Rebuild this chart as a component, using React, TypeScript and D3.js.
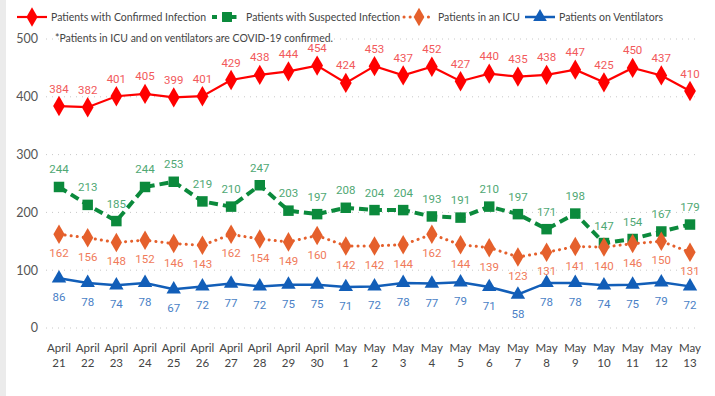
import * as d3 from "d3";
import React from "react";

const dates = [
  "April 21", "April 22", "April 23", "April 24", "April 25", "April 26", "April 27", "April 28",
  "April 29", "April 30", "May 1", "May 2", "May 3", "May 4", "May 5", "May 6", "May 7", "May 8",
  "May 9", "May 10", "May 11", "May 12", "May 13",
];
const confirmed = [384, 382, 401, 405, 399, 401, 429, 438, 444, 454, 424, 453, 437, 452, 427, 440, 435, 438, 447, 425, 450, 437, 410];
const suspected = [244, 213, 185, 244, 253, 219, 210, 247, 203, 197, 208, 204, 204, 193, 191, 210, 197, 171, 198, 147, 154, 167, 179];
const icu = [162, 156, 148, 152, 146, 143, 162, 154, 149, 160, 142, 142, 144, 162, 144, 139, 123, 131, 141, 140, 146, 150, 131];
const ventilators = [86, 78, 74, 78, 67, 72, 77, 72, 75, 75, 71, 72, 78, 77, 79, 71, 58, 78, 78, 74, 75, 79, 72];
const yTicks = [0, 100, 200, 300, 400, 500];

const W = 715;
const H = 396;
const font = "Lato, 'DejaVu Sans', sans-serif";
const labelFont = "Roboto, sans-serif";

interface Series {
  name: string;
  values: number[];
  color: string;
  labelColor: string;
  width: number;
  dash: string;
  marker: "diamond" | "square" | "triangle";
  markerSize: number;
  labelAbove: boolean;
}

const series: Series[] = [
  { name: "Patients with Confirmed Infection", values: confirmed, color: "#ff0000", labelColor: "#f2595b", width: 2.2, dash: "", marker: "diamond", markerSize: 120, labelAbove: true },
  { name: "Patients with Suspected Infection", values: suspected, color: "#0b8a3c", labelColor: "#4fa874", width: 4, dash: "9,5", marker: "square", markerSize: 110, labelAbove: true },
  { name: "Patients in an ICU", values: icu, color: "#e5602c", labelColor: "#f07a5a", width: 3, dash: "0.1,6", marker: "diamond", markerSize: 110, labelAbove: false },
  { name: "Patients on Ventilators", values: ventilators, color: "#125eb8", labelColor: "#4a7fc6", width: 2.5, dash: "", marker: "triangle", markerSize: 90, labelAbove: false },
];

const symbolType = (m: string) =>
  m === "diamond" ? d3.symbolDiamond : m === "square" ? d3.symbolSquare : d3.symbolTriangle;

// legend layout: where each entry starts and how wide its text is
const legendX = [17, 212, 404, 525];
const legendTextW = [155, 154, 82, 104];

export default function App() {
  const x = d3.scalePoint<string>().domain(dates).range([59, 690]);
  const y = d3.scaleLinear().domain([0, 500]).range([328, 39]);

  return (
    <svg width={W} height={H} style={{ position: "absolute", left: 0, top: 0, background: "#fff" }}>
      <rect x={0} y={0} width={6} height={H} fill="#ebebeb" />

      {yTicks.map((t) => (
        <g key={t}>
          <line x1={46} x2={695} y1={y(t)} y2={y(t)} stroke="#c8c8c8" strokeWidth={1} strokeDasharray="1,5" />
          <text x={38} y={y(t)} dy="0.35em" textAnchor="end" fontFamily={font} fontSize={12.5} fill="#555">{t}</text>
        </g>
      ))}

      <text x={55} y={38.5} dy="0.35em" fontFamily={font} fontSize={10.5} fill="#444" textLength={278} lengthAdjust="spacingAndGlyphs">
        *Patients in ICU and on ventilators are COVID-19 confirmed.
      </text>

      {dates.map((d) => {
        const [m, day] = d.split(" ");
        return (
          <text key={d} x={x(d)} y={348} textAnchor="middle" fontFamily={font} fontSize={11.5} fill="#444">
            <tspan x={x(d)} dy="0.35em">{m}</tspan>
            <tspan x={x(d)} dy="15">{day}</tspan>
          </text>
        );
      })}

      {series.map((s) => {
        const line = d3.line<number>().x((_, i) => x(dates[i])!).y((v) => y(v));
        const sym = d3.symbol().type(symbolType(s.marker)).size(s.markerSize)()!;
        return (
          <g key={s.name}>
            <path d={line(s.values)!} fill="none" stroke={s.color} strokeWidth={s.width} strokeDasharray={s.dash} strokeLinecap={s.dash.startsWith("0.1") ? "round" : "butt"} />
            {s.values.map((v, i) => (
              <path key={i} d={sym} transform={`translate(${x(dates[i])},${y(v)})`} fill={s.color} />
            ))}
            {s.values.map((v, i) => (
              <text key={"l" + i} x={x(dates[i])} y={y(v) + (s.labelAbove ? -17.5 : 19)} dy="0.35em" textAnchor="middle"
                fontFamily={labelFont} fontSize={11.5} fill={s.labelColor}>{v}</text>
            ))}
          </g>
        );
      })}

      {series.map((s, i) => {
        const lx = legendX[i];
        const sym = d3.symbol().type(symbolType(s.marker)).size(s.markerSize * 0.9)()!;
        return (
          <g key={"lg" + i}>
            <line x1={lx} x2={lx + 30} y1={17} y2={17} stroke={s.color} strokeWidth={s.width}
              strokeDasharray={s.dash ? (s.marker === "square" ? "5,14.5" : "0.1,6") : ""}
              strokeLinecap={s.marker === "diamond" && s.dash ? "round" : "butt"} />
            <path d={sym} transform={`translate(${lx + 15},17)`} fill={s.color} />
            <text x={lx + 34} y={17} dy="0.35em" fontFamily={font} fontSize={11.5} fill="#444"
              textLength={legendTextW[i]} lengthAdjust="spacingAndGlyphs">{s.name}</text>
          </g>
        );
      })}
    </svg>
  );
}
